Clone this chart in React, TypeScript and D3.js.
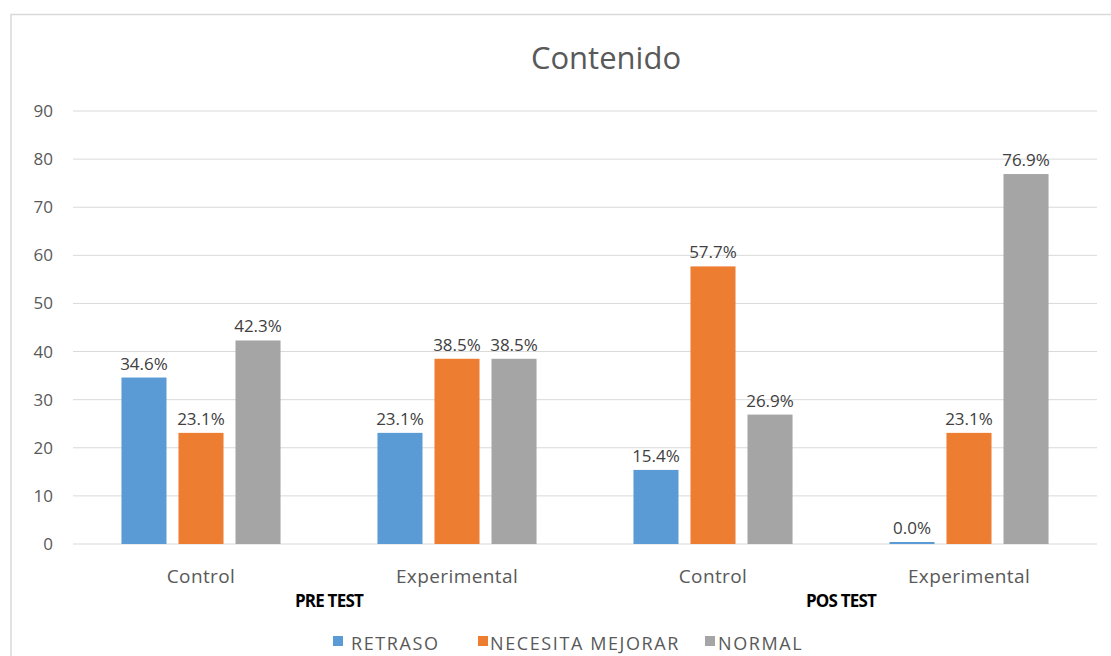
import React, { useEffect } from 'react';
import * as d3 from 'd3';

const categories = ['Control', 'Experimental', 'Control', 'Experimental'];
const groups = ['PRE TEST', 'POS TEST'];
const seriesNames = ['RETRASO', 'NECESITA MEJORAR', 'NORMAL'];
const seriesColors = ['#5B9BD5', '#ED7D31', '#A5A5A5'];
const retraso = [34.6, 23.1, 15.4, 0.0];
const necesitaMejorar = [23.1, 38.5, 57.7, 23.1];
const normal = [42.3, 38.5, 26.9, 76.9];
const yTicks = [0, 10, 20, 30, 40, 50, 60, 70, 80, 90];

const W = 1111;
const H = 656;
const font = "'Open Sans', 'Noto Sans', sans-serif";

const App: React.FC = () => {
  useEffect(() => {
    document.body.style.margin = '0';
  }, []);

  const series = [retraso, necesitaMejorar, normal];
  const left = 73;
  const right = 1097;

  const x = d3.scaleBand<number>().domain(d3.range(categories.length)).range([left, right]);
  const inner = d3.scaleBand<number>()
    .domain(d3.range(series.length))
    .range([0, x.bandwidth()])
    .paddingInner(0.21)
    .paddingOuter(0.85);
  const y = d3.scaleLinear().domain([0, 90]).range([544, 111]);

  // legend layout: marker x, text x
  const legendPos = [
    { x: 333, tx: 351 },
    { x: 478, tx: 490 },
    { x: 705, tx: 718 },
  ];

  return (
    <svg width={W} height={H} style={{ display: 'block', background: '#fff' }}>
      <path d={`M11,${H} V14.5 H${W}`} fill="none" stroke="#d9d9d9" strokeWidth={1.5} />
      <text x={606} y={69} textAnchor="middle" fontFamily={font} fontSize={31} fill="#595959">
        Contenido
      </text>

      {yTicks.map(t => (
        <g key={t}>
          <line x1={left} x2={right} y1={y(t)} y2={y(t)} stroke="#d9d9d9" strokeWidth={1} />
          <text x={53} y={y(t) + 6} textAnchor="end" fontFamily={font} fontSize={17} fill="#595959">
            {t}
          </text>
        </g>
      ))}

      {categories.map((c, i) => (
        <g key={i} transform={`translate(${x(i)},0)`}>
          {series.map((s, j) => {
            const v = s[i];
            const top = Math.min(y(v), y(0) - 2);
            const bx = inner(j)!;
            return (
              <g key={j}>
                <rect x={bx} y={top} width={inner.bandwidth()} height={y(0) - top} fill={seriesColors[j]} />
                <text
                  x={bx + inner.bandwidth() / 2}
                  y={top - 8}
                  textAnchor="middle"
                  fontFamily={font}
                  fontSize={17}
                  fill="#404040"
                >
                  {v.toFixed(1)}%
                </text>
              </g>
            );
          })}
          <text
            x={x.bandwidth() / 2}
            y={583}
            textAnchor="middle"
            fontFamily={font}
            fontSize={19}
            letterSpacing={0.4}
            fill="#595959"
          >
            {c}
          </text>
        </g>
      ))}

      {groups.map((g, k) => (
        <text
          key={g}
          x={(x(k * 2)! + x(k * 2 + 1)! + x.bandwidth()) / 2}
          y={607}
          textAnchor="middle"
          fontFamily={font}
          fontSize={17}
          fontWeight="bold"
          fill="#000"
          letterSpacing={-0.8}
        >
          {g}
        </text>
      ))}

      {legendPos.map((p, j) => (
        <g key={j}>
          <rect x={p.x} y={636} width={10} height={10} fill={seriesColors[j]} />
          <text x={p.tx} y={650} fontFamily={font} fontSize={18} letterSpacing={1.6} fill="#595959">
            {seriesNames[j]}
          </text>
        </g>
      ))}
    </svg>
  );
};

export default App;
